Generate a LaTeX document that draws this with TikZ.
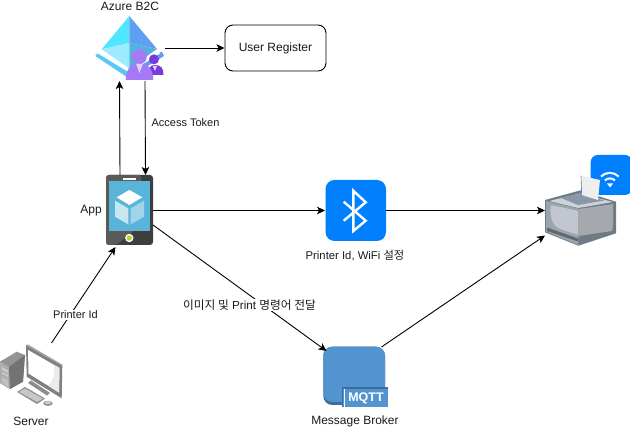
\documentclass[tikz,border=0pt]{standalone}
\usepackage{fontspec}
\setmainfont{Liberation Sans}
\newfontfamily\cjk{Noto Sans CJK KR}
\usetikzlibrary{arrows.meta}
\definecolor{txt}{HTML}{1A1A1A}
\definecolor{blueapp}{HTML}{007FFF}
\definecolor{mq}{HTML}{5294CF}
\definecolor{mqd}{HTML}{3B6D9E}
\definecolor{azA}{HTML}{50E6FF}
\definecolor{azB}{HTML}{9CEBFF}
\definecolor{azC}{HTML}{53B1E0}
\definecolor{azD}{HTML}{5EA0EF}
\definecolor{azF}{HTML}{5AC8F5}
\definecolor{pu}{HTML}{A67AF4}
\definecolor{pd}{HTML}{773ADC}
\definecolor{pt}{HTML}{E0D4F8}
\definecolor{scr}{HTML}{59B4D9}
\definecolor{cubL}{HTML}{C8E6F2}
\definecolor{cubR}{HTML}{9FD4EA}
\definecolor{phA}{HTML}{3E3E3E}
\definecolor{phB}{HTML}{5A5A5A}
\definecolor{hb}{HTML}{B8D432}
\definecolor{prE}{HTML}{6E7B85}
\definecolor{prL}{HTML}{9AA4AE}
\definecolor{prM}{HTML}{C2C7CF}
\definecolor{prR}{HTML}{A5A9AE}
\definecolor{prT}{HTML}{CDD1D8}
\definecolor{prS}{HTML}{8B96A6}
\definecolor{prP}{HTML}{EEEEEE}
\tikzset{
  x=1pt,y=-1pt,
  every node/.style={font=\fontsize{12}{13}\selectfont,text=txt,inner sep=0pt},
  edgetext/.style={font=\fontsize{11}{12}\selectfont},
  conn/.style={line width=0.9pt,black,-{Stealth[length=8pt,width=7.5pt,inset=2pt]}},
  iconbox/.style={minimum width=#1,inner sep=0pt,outer sep=0pt},
  lbl/.style={fill=white,inner sep=1pt,edgetext},
  wline/.style={white,line width=2.4pt,line join=miter,line cap=butt}
}
\begin{document}
\begin{tikzpicture}
\useasboundingbox (0,0) rectangle (630,430);
\fill[white] (0,0) rectangle (630,430);

% ---- Azure B2C icon
\fill[azF] (95.3,56) -- (98,53) -- (129.3,72) -- (129.3,77) -- (126.7,77) -- cycle;
\fill[azD] (129.3,72) -- (158,53) -- (162,52) -- (164,56) -- (130,77) -- cycle;
\fill[white] (101,50.5) -- (129.3,68) -- (129.3,72.5) -- (98,53.5) -- cycle;
\fill[white] (157,50.5) -- (129.3,68) -- (129.3,72.5) -- (160,53.5) -- cycle;
\fill[azA] (129.3,16) -- (101.7,49.3) -- (129.3,43) -- cycle;
\fill[azB] (101.7,49.3) -- (129.3,43) -- (129.3,68.5) -- cycle;
\fill[azD] (129.3,16) -- (157,49) -- (129.3,43) -- cycle;
\fill[azC] (157,49) -- (129.3,43) -- (129.3,68.5) -- cycle;
% persons
\fill[pd] (154,59.3) circle (5);
\fill[pd] (148.3,75) .. controls (148.3,68) and (150,65) .. (155,65) .. controls (161,65) and (163.5,68) .. (163.5,75) -- cycle;
\fill[pu] (139.3,56.7) circle (7.5);
\fill[pu] (125.7,80) .. controls (126,70) and (130,63.5) .. (139.5,63.5) .. controls (149,63.5) and (153,70) .. (153.3,80) -- cycle;
\fill[pt] (136.2,64) -- (142.8,64) -- (139.5,73) -- cycle;
\fill[pt] (152.8,66) -- (157,66) -- (155,71) -- cycle;
\node[iconbox=68pt,minimum height=66pt] (azure) at (129,48) {};
\node (azurel) at (130,6.5) {Azure B2C};

% ---- User Register
\node[draw=black,line width=0.9pt,rounded corners=8pt,minimum width=101pt,minimum height=46pt] (user) at (275.5,48) {\raisebox{-0.7pt}{User Register}};

% ---- Phone
\fill[phA,rounded corners=3pt] (106,175) rectangle (153,245);
\fill[phB,rounded corners=3pt] (106,175) -- (142,175) -- (134,231) -- (116,245) -- (106,245) -- cycle;
\fill[white] (122.7,177.6) rectangle (136,179.6);
\fill[scr] (109,181) rectangle (150,231);
\fill[white] (129.3,190) -- (142.3,197.3) -- (129.3,205) -- (116.7,197.3) -- cycle;
\fill[cubL] (115,200.7) -- (128.3,208.3) -- (128.3,224.3) -- (115,216.7) -- cycle;
\fill[cubR] (130.7,208.3) -- (144,200.7) -- (144,216.7) -- (130.7,224.3) -- cycle;
\fill[white] (129.3,238) circle (4.2);
\fill[hb] (129.3,238) circle (2.7);
\node[iconbox=47pt,minimum height=70pt] (phone) at (129.5,210) {};
\node (appl) at (91,210.5) {App};

% ---- Bluetooth
\fill[blueapp,rounded corners=9pt] (325.5,180) rectangle (386,241);
\draw[wline] (343.7,201.7) -- (365.7,220.7) -- (353.3,231) -- (353.3,190.7) -- (365.7,202.3) -- (343.7,220.7);
\node[iconbox=61pt,minimum height=61pt] (bt) at (355.5,210.5) {};
\node[font=\fontsize{11.3}{13}\selectfont] (btl) at (355,255.5) {Printer Id, WiFi {\cjk 설정}};

% ---- Wifi badge and printer
\fill[blueapp,rounded corners=7pt] (590.7,155) rectangle (632,195);
\draw[white,line width=2pt] (601,176.5) arc[start angle=-135,end angle=-45,radius=12.5];
\draw[white,line width=2pt] (604.8,180.5) arc[start angle=-135,end angle=-45,radius=7.2];
\fill[white] (607,183.5) -- (613,183.5) -- (610,187.5) -- cycle;
\fill[prE] (545,200) -- (580,190.5) -- (616,201.7) -- (616,233.3) -- (578.3,245.7) -- (545,232.3) -- cycle;
\fill[prL] (546,201) -- (578.3,208.5) -- (578.3,245) -- (546,231.5) -- cycle;
\fill[prM] (551,205) -- (578.3,211) -- (578.3,235) -- (560,229) .. controls (552,226) and (549,215) .. (551,205) -- cycle;
\fill[prR] (578.3,209) -- (613,204) -- (613,226) -- (612,231) -- (578.3,236) -- cycle;
\fill[prT] (549,201) -- (580,193.5) -- (613,202) -- (578.3,208) -- cycle;
\fill[prS] (561,198) -- (581,193.5) -- (604,200.5) -- (578.3,205) -- cycle;
\fill[prE!85!black] (547,227.5) -- (578,238.5) -- (578,241.5) -- (547,231) -- cycle;
\fill[prP] (581,175.7) -- (600,180) -- (598,200) -- (581.7,195) -- cycle;
\draw[prE,line width=0.6pt] (581,175.7) -- (581.7,195);
\node[iconbox=71pt,minimum height=70pt] (printer) at (580.5,210.5) {};

% ---- Server
\fill[black!42] (0,361.7) -- (16.7,351.7) -- (25,355) -- (23,381.7) -- (10,389) -- (0,383) -- cycle;
\fill[black!32] (0,362) -- (9,367) -- (10,389) -- (0,383) -- cycle;
\fill[black!55] (9,367) -- (25,355) -- (23,381.7) -- (10,389) -- cycle;
\fill[white!80!black] (2,367) -- (8,370.5) -- (8,373) -- (2,370) -- cycle;
\fill[white!80!black] (2,372) -- (8,375) -- (8,377) -- (2,374) -- cycle;
\fill[black!25] (2,377) -- (8,380) -- (8,387) -- (2,383) -- cycle;
\fill[black!45] (28,383) -- (31,380.5) -- (50,393) -- (47,395.5) -- cycle;
\fill[black!50] (26,345) -- (62.3,365.7) -- (61.7,398.3) -- (26.7,376.7) -- cycle;
\fill[black!35] (26,345) -- (28,344.5) -- (63,365) -- (62.3,365.7) -- cycle;
\fill[white] (28,350) -- (59.5,368) -- (59,392.5) -- (28.5,373.5) -- cycle;
\fill[black!8] (59.5,368) -- (59,392.5) -- (48,385.5) .. controls (54,380) and (55,372) .. (54,365) -- cycle;
\fill[black!45] (17,392) -- (25,387) -- (45,398.5) -- (37,404) -- cycle;
\fill[black!22] (19,392) -- (25,388.5) -- (43,398.5) -- (37,402) -- cycle;
\fill[black!45] (48,403.3) ellipse (4.7 and 2.6);
\fill[black!20] (48,402.7) ellipse (3.4 and 1.6);
\node[iconbox=63pt,minimum height=66pt] (server) at (31.5,376) {};
\node (serverl) at (31,421) {Server};

% ---- MQTT
\fill[mqd,rounded corners=9pt] (323.3,346.7) rectangle (385,405);
\fill[mq,rounded corners=9pt] (323.3,346.7) rectangle (385,402);
\fill[mqd] (341.7,386.7) rectangle (387.7,407.3);
\fill[mq] (343,389.5) rectangle (387.7,407.3);
\fill[white] (343.6,389.5) rectangle (344.8,407.3);
\node[font=\fontsize{12.5}{13}\bfseries\ttfamily,text=white] (mqttl) at (366,398) {\setmonofont{DejaVu Sans Mono}\bfseries MQTT};
\node[iconbox=62pt,minimum height=60pt] (broker) at (354.5,377) {};
\node (brokerl) at (355,421) {Message Broker};

% ---- Connectors
\draw[conn] ([xshift=2pt]azure.east |- user.west) -- (user.west);
\draw[conn] ([xshift=16pt]azure.south) -- ([xshift=16pt]phone.north);
\draw[conn] ([xshift=-9.5pt]phone.north) -- ([xshift=-9.5pt]azure.south);
\draw[conn] (phone.east |- bt.west) -- (bt.west);
\draw[conn] (bt.east) -- (printer.west);
\draw[conn] ([yshift=-15pt]phone.east) -- ([xshift=3pt,yshift=-4pt]broker.north west);
\draw[conn] ([xshift=27pt]broker.north) -- ([yshift=-25pt]printer.west);
\draw[conn] ([xshift=20pt]server.north) -- ([yshift=-2pt,xshift=-14pt]phone.south);

% ---- Edge labels
\node[lbl] (tok) at (185.5,122.5) {Access Token};
\node[lbl] (pid) at (75.5,315) {Printer Id};
\node[lbl,font=\fontsize{11.7}{13}\selectfont] (cmd) at (249.5,305) {{\cjk 이미지 및} Print {\cjk 명령어 전달}};
\end{tikzpicture}
\end{document}
